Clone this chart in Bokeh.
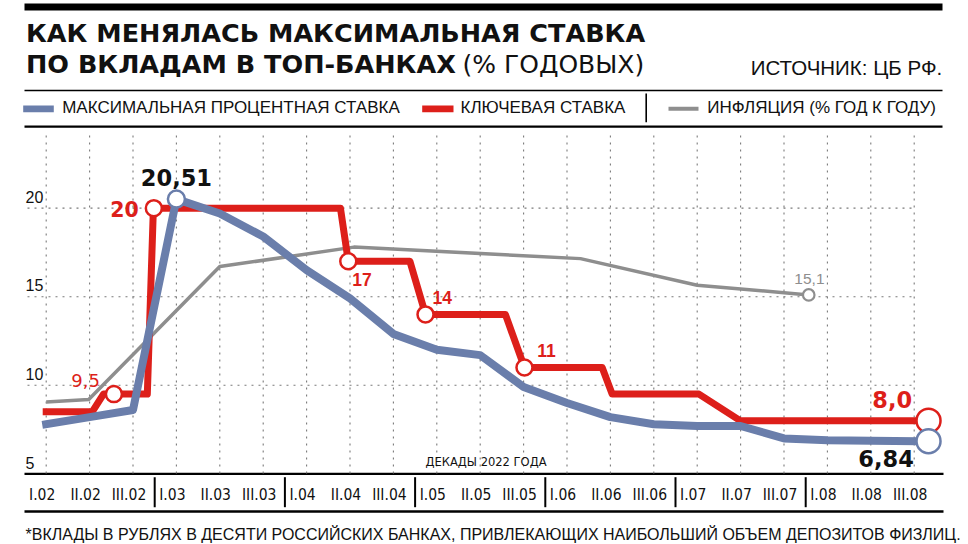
from bokeh.plotting import figure
from bokeh.models import Range1d, Label
from bokeh.embed import file_html
from bokeh.resources import INLINE
from bokeh.core.properties import value

# ---------------- data ----------------
decades = ["I.02", "II.02", "III.02", "I.03", "II.03", "III.03", "I.04", "II.04", "III.04",
           "I.05", "II.05", "III.05", "I.06", "II.06", "III.06", "I.07", "II.07", "III.07",
           "I.08", "II.08", "III.08"]
max_rate = [7.8, 8.2, 8.6, 20.51, 19.7, 18.4, 16.5, 14.9, 12.9, 12.0, 11.7, 9.9, 9.0, 8.2,
            7.8, 7.7, 7.7, 7.0, 6.9, 6.87, 6.84]
key_pos = [0, 1.06, 1.32, 2.33, 2.47, 6.78, 6.96, 8.38, 8.74, 10.58, 11.02, 12.81, 13.04,
           15.04, 15.99, 20.03]
key_rate = [8.5, 8.5, 9.5, 9.5, 20, 20, 17, 17, 14, 14, 11, 11, 9.5, 9.5, 8.0, 8.0]
key_mark_pos = [1.56, 2.48, 6.96, 8.74, 11.02]
key_mark_rate = [9.5, 20, 17, 14, 11]
key_mark_text = ["9,5", "20", "17", "14", "11"]
infl_pos = [0, 0.98, 4.0, 7.09, 12.31, 15.0, 17.57]
infl_rate = [9.05, 9.2, 16.7, 17.8, 17.15, 15.65, 15.1]
infl_last_text = "15,1"
max_peak_idx = 3
max_peak_text = "20,51"
end_pos = 20.33
key_last = 8.0
key_last_text = "8,0"
max_last_text = "6,84"
y_ticks = [5, 10, 15, 20]

# ---------------- layout ----------------
W, H = 968, 544
PX_X0, DX = 45.7, 43.4      # pixel of first decade, pixels per decade
PX_Y5, DY = 473.3, 17.71    # pixel of value 5, pixels per unit
x_start = -PX_X0 / DX
x_end = x_start + W / DX
y_end = 5 + PX_Y5 / DY
y_start = y_end - H / DY
SHIFT = 0.37                # baseline correction (fraction of font size)


def X(px):
    return x_start + px / DX


def Y(py):
    return y_end - py / DY


def fpx(fs):
    return float(fs.replace("px", ""))


BLUE = "#6a7eab"
RED = "#dd1f1a"
GRAY = "#8e8e8e"
GRID = "#7a7a7a"
FONT = "Liberation Sans"
COND = "DejaVu Sans Condensed"
BOLDF = "DejaVu Sans"

p = figure(width=W, height=H, x_range=Range1d(x_start, x_end), y_range=Range1d(y_start, y_end),
           output_backend="svg", toolbar_location=None, x_axis_type=None, y_axis_type=None,
           min_border=0, outline_line_color=None, background_fill_color="white",
           border_fill_color="white")
p.min_border_left = p.min_border_right = p.min_border_top = p.min_border_bottom = 0


def hbar(x0, x1, y0, y1, color="black"):
    p.quad(left=[X(x0)], right=[X(x1)], top=[Y(y0)], bottom=[Y(y1)], fill_color=color,
           line_color=None)


# rules
hbar(24, 942, 3, 10)
hbar(24, 942, 89.3, 90.8)
hbar(24, 942, 125, 127.3)
hbar(24, 943, 472.3, 474.4)
hbar(24, 943, 509.8, 512.3)
p.segment(x0=[X(645.7)], y0=[Y(93)], x1=[X(645.7)], y1=[Y(121.7)], line_color="black", line_width=1.6)

# grid
n = len(decades)
p.segment(x0=list(range(n)), x1=list(range(n)), y0=[Y(135)] * n, y1=[5] * n,
          line_color=GRID, line_width=1.1, line_dash="2 5")
gy = [v for v in y_ticks if v > 5]
p.segment(x0=[X(27)] * len(gy), x1=[n - 1] * len(gy), y0=gy, y1=gy,
          line_color=GRID, line_width=1.1, line_dash="2 5")

# month separators in the x-axis row
months = [d.split(".")[1] for d in decades]
seps = [i + 0.5 for i in range(n - 1) if months[i] != months[i + 1]]
p.segment(x0=seps, x1=seps, y0=[Y(476.7)] * len(seps), y1=[Y(506.7)] * len(seps),
          line_color="black", line_width=2)

# axis labels
TICK_FS = "15.5px"
p.text(x=list(range(n)), y=[Y(500 - SHIFT * fpx(TICK_FS))] * n, text=decades, text_font=value(COND),
       text_font_size=TICK_FS, text_align="center", text_baseline="alphabetic",
       x_offset=-4, text_color="#111111")
YT_FS = "16px"
p.text(x=[X(25)] * len(y_ticks), y=y_ticks, text=[str(v) for v in y_ticks],
       text_font=value(FONT), text_font_size=YT_FS, text_align="left",
       text_baseline="alphabetic", y_offset=-5.3 - SHIFT * fpx(YT_FS), text_color="#111111")

# series
p.line(infl_pos, infl_rate, line_color=GRAY, line_width=3.5, line_join="round")
p.line(key_pos, key_rate, line_color=RED, line_width=7, line_join="round", line_cap="square")
p.line(list(range(n)), max_rate, line_color=BLUE, line_width=8, line_join="round", line_cap="square")

# markers
p.scatter(key_mark_pos, key_mark_rate, size=16, fill_color="white", line_color=RED, line_width=2.5)
p.scatter([infl_pos[-1]], [infl_rate[-1]], size=11.5, fill_color="white", line_color=GRAY, line_width=2.2)
p.scatter([max_peak_idx], [max_rate[max_peak_idx]], size=17, fill_color="white", line_color=BLUE, line_width=2.5)
p.scatter([end_pos], [key_last], size=24, fill_color="white", line_color=RED, line_width=2.5)
p.scatter([end_pos], [max_rate[-1]], size=24, fill_color="white", line_color=BLUE, line_width=2.5)


def vlabel(x, y, t, dx, dy, align, fnt, fs, fst, color):
    p.text(x=[x], y=[y], text=[t], x_offset=dx, y_offset=dy - SHIFT * fpx(fs), text_align=align,
           text_baseline="alphabetic", text_font=value(fnt), text_font_size=fs,
           text_font_style=fst, text_color=color)


# value labels (offsets in px: dx, dy(down), align, font, size, style)
key_label_style = [(-28.3, -6.8, "center", BOLDF, "18px", "normal"),
                   (-15, 8.3, "right", BOLDF, "20.5px", "bold"),
                   (4, 24.2, "left", FONT, "17.5px", "bold"),
                   (7, -10.3, "left", FONT, "17.5px", "bold"),
                   (12.7, -10.3, "left", FONT, "17.5px", "bold")]
for xv, yv, t, st in zip(key_mark_pos, key_mark_rate, key_mark_text, key_label_style):
    vlabel(xv, yv, t, *st, RED)

vlabel(max_peak_idx, max_rate[max_peak_idx], max_peak_text, 0, -13.6, "center", BOLDF, "22.5px", "bold", "#111111")
vlabel(end_pos, key_last, key_last_text, -16.3, -12.9, "right", BOLDF, "22.5px", "bold", RED)
vlabel(end_pos, max_rate[-1], max_last_text, -14.7, 26, "right", BOLDF, "22.5px", "bold", "#111111")
vlabel(infl_pos[-1], infl_rate[-1], infl_last_text, 0.7, -10.4, "center", FONT, "15.5px", "normal", GRAY)


# static texts
def lab(px, py, text, font=FONT, size="17px", style="normal", align="left", color="#111111"):
    p.add_layout(Label(x=X(px), y=Y(py - SHIFT * fpx(size)), text=text, text_font=font,
                       text_font_size=size, text_font_style=style, text_align=align,
                       text_baseline="alphabetic", text_color=color))


lab(25.5, 41.7, "КАК МЕНЯЛАСЬ МАКСИМАЛЬНАЯ СТАВКА", BOLDF, "25.5px", "bold")
lab(25.5, 73.3, "ПО ВКЛАДАМ В ТОП-БАНКАХ", BOLDF, "25.5px", "bold")
lab(462, 73.3, "(% ГОДОВЫХ)", BOLDF, "25px", "normal")
lab(941.7, 75, "ИСТОЧНИК: ЦБ РФ.", FONT, "20.5px", "normal", "right")

# legend
hbar(22.7, 53.3, 105, 111.7, BLUE)
lab(61.7, 113.3, "МАКСИМАЛЬНАЯ ПРОЦЕНТНАЯ СТАВКА")
hbar(421.7, 453, 105, 111.7, RED)
lab(460, 113.3, "КЛЮЧЕВАЯ СТАВКА")
hbar(668, 698, 106.3, 110.3, GRAY)
lab(706.7, 113.3, "ИНФЛЯЦИЯ (% ГОД К ГОДУ)")

lab(425, 466, "ДЕКАДЫ 2022 ГОДА", COND, "12.8px")
lab(25, 540, "*ВКЛАДЫ В РУБЛЯХ В ДЕСЯТИ РОССИЙСКИХ БАНКАХ, ПРИВЛЕКАЮЩИХ НАИБОЛЬШИЙ ОБЪЕМ ДЕПОЗИТОВ ФИЗЛИЦ.",
    FONT, "16px")

open("out.html", "w").write(file_html(p, INLINE))
